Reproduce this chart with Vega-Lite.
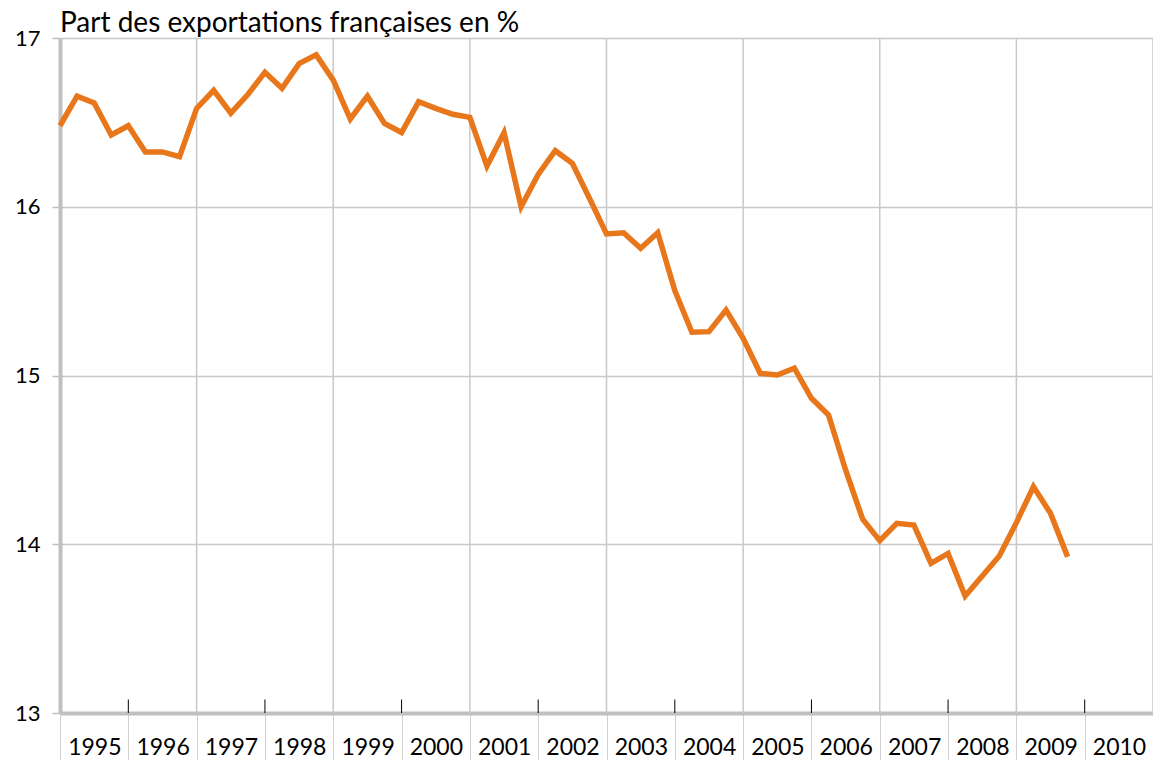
{
  "$schema": "https://vega.github.io/schema/vega-lite/v6.json",
  "width": 1093,
  "height": 675,
  "autosize": {"type": "none"},
  "padding": {"left": 60, "top": 38, "right": 0, "bottom": 47},
  "background": "white",
  "config": {
    "view": {"stroke": null},
    "font": "Lato",
    "axis": {"labelFont": "Lato", "labelColor": "#000000"}
  },
  "title": {
    "text": "Part des exportations françaises en %",
    "anchor": "start",
    "frame": "group",
    "offset": 4,
    "dy": 15,
    "fontSize": 28,
    "font": "Lato",
    "fontWeight": "normal",
    "color": "#000000"
  },
  "datasets": {
    "series": [
      {"t": 1995.00, "v": 16.48}, {"t": 1995.25, "v": 16.655}, {"t": 1995.50, "v": 16.615}, {"t": 1995.75, "v": 16.425},
      {"t": 1996.00, "v": 16.48}, {"t": 1996.25, "v": 16.325}, {"t": 1996.50, "v": 16.325}, {"t": 1996.75, "v": 16.297},
      {"t": 1997.00, "v": 16.583}, {"t": 1997.25, "v": 16.69}, {"t": 1997.50, "v": 16.555}, {"t": 1997.75, "v": 16.665},
      {"t": 1998.00, "v": 16.797}, {"t": 1998.25, "v": 16.702}, {"t": 1998.50, "v": 16.848}, {"t": 1998.75, "v": 16.9},
      {"t": 1999.00, "v": 16.75}, {"t": 1999.25, "v": 16.52}, {"t": 1999.50, "v": 16.655}, {"t": 1999.75, "v": 16.494},
      {"t": 2000.00, "v": 16.44}, {"t": 2000.25, "v": 16.623}, {"t": 2000.50, "v": 16.583}, {"t": 2000.75, "v": 16.548},
      {"t": 2001.00, "v": 16.53}, {"t": 2001.25, "v": 16.241}, {"t": 2001.50, "v": 16.439}, {"t": 2001.75, "v": 16.0},
      {"t": 2002.00, "v": 16.192}, {"t": 2002.25, "v": 16.332}, {"t": 2002.50, "v": 16.257}, {"t": 2002.75, "v": 16.05},
      {"t": 2003.00, "v": 15.839}, {"t": 2003.25, "v": 15.846}, {"t": 2003.50, "v": 15.754}, {"t": 2003.75, "v": 15.846},
      {"t": 2004.00, "v": 15.503}, {"t": 2004.25, "v": 15.256}, {"t": 2004.50, "v": 15.26}, {"t": 2004.75, "v": 15.388},
      {"t": 2005.00, "v": 15.22}, {"t": 2005.25, "v": 15.013}, {"t": 2005.50, "v": 15.003}, {"t": 2005.75, "v": 15.043},
      {"t": 2006.00, "v": 14.865}, {"t": 2006.25, "v": 14.766}, {"t": 2006.50, "v": 14.44}, {"t": 2006.75, "v": 14.148},
      {"t": 2007.00, "v": 14.021}, {"t": 2007.25, "v": 14.124}, {"t": 2007.50, "v": 14.114}, {"t": 2007.75, "v": 13.887},
      {"t": 2008.00, "v": 13.946}, {"t": 2008.25, "v": 13.693}, {"t": 2008.50, "v": 13.812}, {"t": 2008.75, "v": 13.93},
      {"t": 2009.00, "v": 14.128}, {"t": 2009.25, "v": 14.341}, {"t": 2009.50, "v": 14.183}, {"t": 2009.75, "v": 13.926}
    ],
    "grid": [
      {"t": 1997}, {"t": 1999}, {"t": 2001}, {"t": 2003}, {"t": 2005}, {"t": 2007}, {"t": 2009}, {"t": 2011}
    ],
    "marks": [
      {"t": 1996, "lo": 13, "hi": 13.08}, {"t": 1998, "lo": 13, "hi": 13.08}, {"t": 2000, "lo": 13, "hi": 13.08},
      {"t": 2002, "lo": 13, "hi": 13.08}, {"t": 2004, "lo": 13, "hi": 13.08}, {"t": 2006, "lo": 13, "hi": 13.08},
      {"t": 2008, "lo": 13, "hi": 13.08}, {"t": 2010, "lo": 13, "hi": 13.08}
    ]
  },
  "layer": [
    {
      "data": {"name": "grid"},
      "mark": {"type": "rule", "color": "#c8c8c8", "strokeWidth": 1.5},
      "encoding": {
        "x": {"field": "t", "type": "quantitative", "scale": {"domain": [1995, 2011], "nice": false, "zero": false}}
      }
    },
    {
      "data": {"name": "marks"},
      "mark": {"type": "rule", "color": "#000000", "strokeWidth": 1},
      "encoding": {
        "x": {"field": "t", "type": "quantitative"},
        "y": {"field": "lo", "type": "quantitative"},
        "y2": {"field": "hi"}
      }
    },
    {
      "data": {"name": "series"},
      "mark": {"type": "line", "color": "#E8761A", "strokeWidth": 5.5, "strokeJoin": "miter"},
      "encoding": {
        "x": {
          "field": "t",
          "type": "quantitative",
          "scale": {"domain": [1995, 2011], "nice": false, "zero": false},
          "axis": {
            "title": null,
            "values": [1995, 1996, 1997, 1998, 1999, 2000, 2001, 2002, 2003, 2004, 2005, 2006, 2007, 2008, 2009, 2010, 2011],
            "labelExpr": "datum.value > 1995 ? '' + (datum.value - 1) : ''",
            "labelOffset": -34,
            "labelPadding": -27,
            "labelFontSize": 23,
            "labelOverlap": false,
            "labelFlush": false,
            "labelBound": false,
            "tickSize": 50,
            "tickColor": "#d0d0d0",
            "tickWidth": 1,
            "grid": false,
            "domainColor": "#c0c0c0",
            "domainWidth": 4
          }
        },
        "y": {
          "field": "v",
          "type": "quantitative",
          "scale": {"domain": [13, 17], "nice": false, "zero": false},
          "axis": {
            "title": null,
            "values": [13, 14, 15, 16, 17],
            "format": "d",
            "labelFontSize": 22,
            "labelPadding": 12,
            "tickSize": 8,
            "tickColor": "#c0c0c0",
            "tickWidth": 1.5,
            "grid": true,
            "gridColor": "#c8c8c8",
            "gridWidth": 1.5,
            "domainColor": "#c0c0c0",
            "domainWidth": 4
          }
        }
      }
    }
  ]
}
